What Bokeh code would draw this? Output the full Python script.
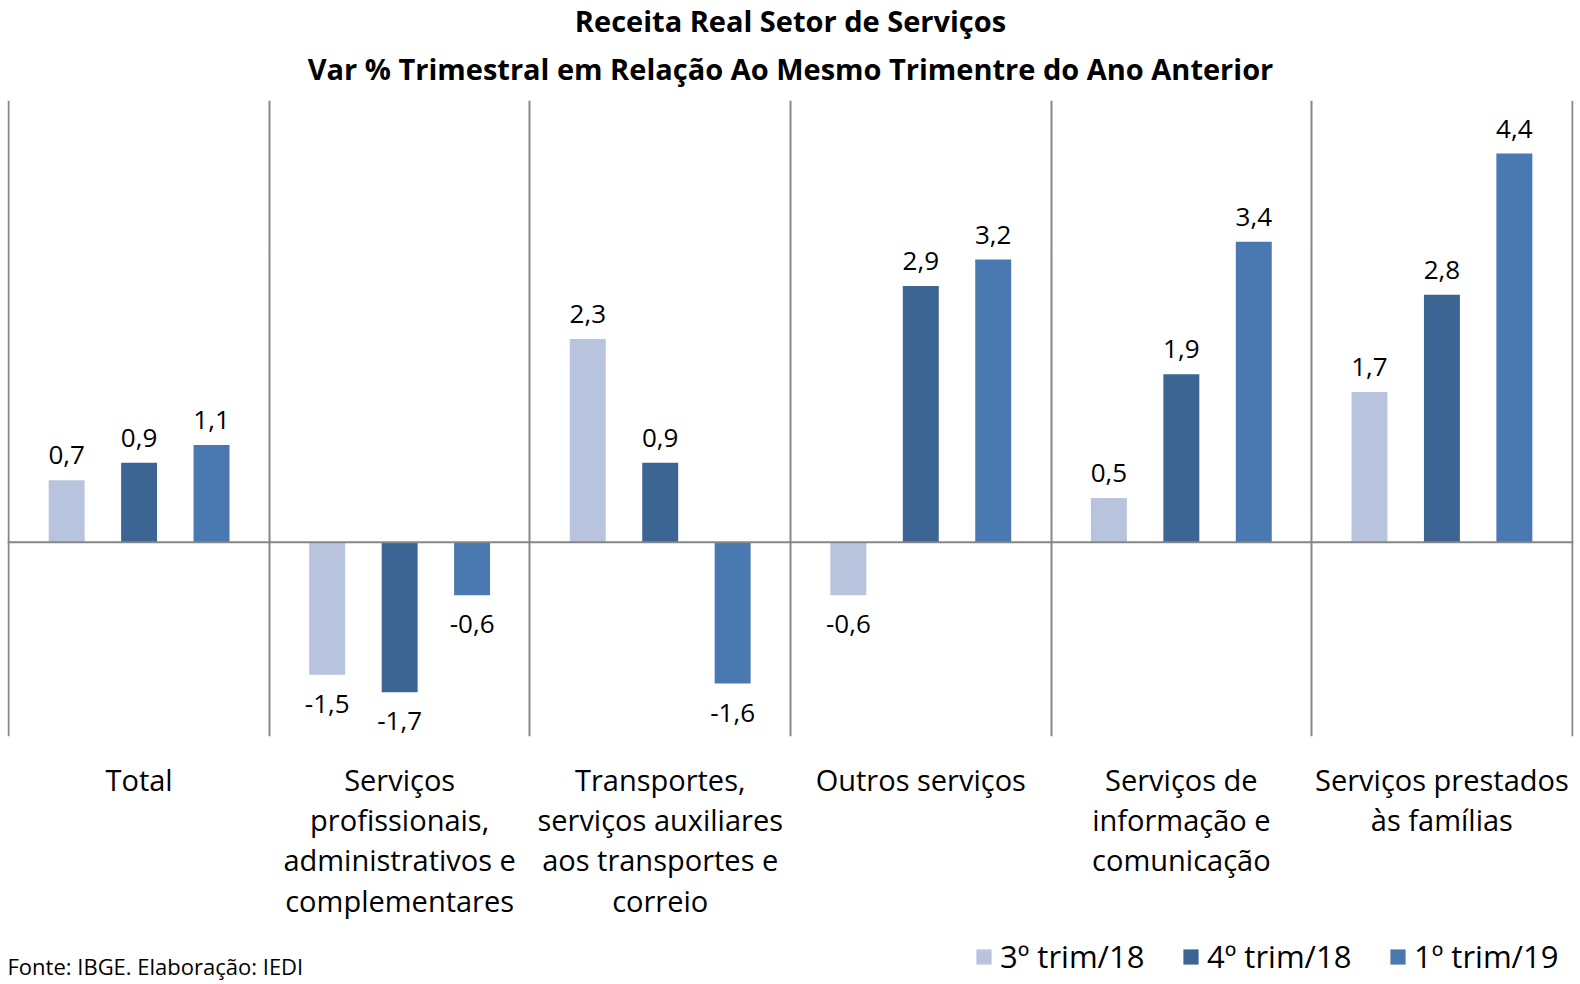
from bokeh.plotting import figure
from bokeh.layouts import column
from bokeh.models import Range1d, FixedTicker, Span, Legend, LegendItem, Label, Title, ColumnDataSource
from bokeh.core.properties import value
from bokeh.embed import file_html
from bokeh.resources import INLINE

title_line1 = "Receita Real Setor de Serviços"
title_line2 = "Var % Trimestral em Relação Ao Mesmo Trimentre do Ano Anterior"
source_note = "Fonte: IBGE. Elaboração: IEDI"

categories = [
    "Total",
    "Serviços\nprofissionais,\nadministrativos e\ncomplementares",
    "Transportes,\nserviços auxiliares\naos transportes e\ncorreio",
    "Outros serviços",
    "Serviços de\ninformação e\ncomunicação",
    "Serviços prestados\nàs famílias",
]
series_names = ["3º trim/18", "4º trim/18", "1º trim/19"]
q3_18 = [0.7, -1.5, 2.3, -0.6, 0.5, 1.7]
q4_18 = [0.9, -1.7, 0.9, 2.9, 1.9, 2.8]
q1_19 = [1.1, -0.6, -1.6, 3.2, 3.4, 4.4]
series_values = [q3_18, q4_18, q1_19]
colors = ["#B8C4DE", "#3D6594", "#4A78B0"]

FONT = "Open Sans"
GRID = "#868686"
n = len(categories)
eps = 0.005

p = figure(width=1580, height=930, title=None,
           x_range=Range1d(-0.5 - eps, n - 0.5 + eps), y_range=Range1d(-2.2, 5.0),
           y_axis_location=None, output_backend="svg", toolbar_location=None,
           min_border_left=7, min_border_right=7, min_border_top=100, min_border_bottom=194)
p.outline_line_color = None

ax = p.xaxis[0]
ax.ticker = FixedTicker(ticks=list(range(n)))
ax.major_label_overrides = {i: c for i, c in enumerate(categories)}
ax.axis_line_color = None
ax.major_tick_line_color = None
ax.minor_tick_line_color = None
ax.major_tick_out = 0
ax.major_tick_in = 0
ax.major_label_standoff = 23
ax.major_label_text_font = FONT
ax.major_label_text_font_size = "29px"
ax.major_label_text_color = "black"
ax.major_label_text_line_height = 1.035

p.xgrid.ticker = FixedTicker(ticks=[i - 0.5 for i in range(n + 1)])
p.xgrid.grid_line_color = GRID
p.xgrid.grid_line_width = 2
p.ygrid.visible = False

p.add_layout(Span(location=0, dimension="width", line_color=GRID, line_width=2))

offsets = [-0.278, 0.0, 0.278]
for name, vals, col, off in zip(series_names, series_values, colors, offsets):
    src = ColumnDataSource(dict(
        x=[i + off for i in range(n)],
        top=vals,
        label=[f"{v:.1f}".replace(".", ",") for v in vals],
        yoff=[-25 if v >= 0 else 29 for v in vals],
    ))
    p.vbar(x="x", top="top", width=0.138, color=col, line_color=None, source=src)
    p.text(x="x", y="top", text="label", y_offset="yoff", source=src,
           text_align="center", text_baseline="middle", text_color="black",
           text_font=value(FONT), text_font_size="26px")

p.add_layout(Title(text=title_line2, align="center", text_font=FONT, text_font_size="29px",
                   text_font_style="bold", text_color="black", standoff=25,
                   text_line_height=0.8), "above")
p.add_layout(Title(text=title_line1, align="center", text_font=FONT, text_font_size="29px",
                   text_font_style="bold", text_color="black", standoff=-10,
                   text_line_height=0.8), "above")

# footer: source note and legend
p2 = figure(width=1580, height=54, title=None, x_range=Range1d(0, 1580), y_range=Range1d(0, 54),
            x_axis_location=None, y_axis_location=None, output_backend="svg",
            toolbar_location=None, min_border=0)
p2.outline_line_color = None
p2.grid.visible = False
items = []
for name, col in zip(series_names, colors):
    # zero-height placeholder bar: only supplies the legend swatch colour
    r = p2.vbar(x=[0], top=[0], width=0.001, color=col, line_color=None)
    items.append(LegendItem(label=name, renderers=[r]))
legend = Legend(items=items, orientation="horizontal", location=(967, 7),
                glyph_width=19, glyph_height=19, label_standoff=7, label_width=163,
                spacing=18, padding=0, margin=0, border_line_color=None,
                background_fill_alpha=0, label_text_font=FONT, label_text_font_size="31px",
                label_text_color="black")
p2.add_layout(legend)
p2.add_layout(Label(x=0, y=19, x_units="screen", y_units="screen", text=source_note,
                    text_font=FONT, text_font_size="22px", text_baseline="middle",
                    text_color="black"))

open("out.html", "w").write(file_html(column(p, p2), INLINE))
